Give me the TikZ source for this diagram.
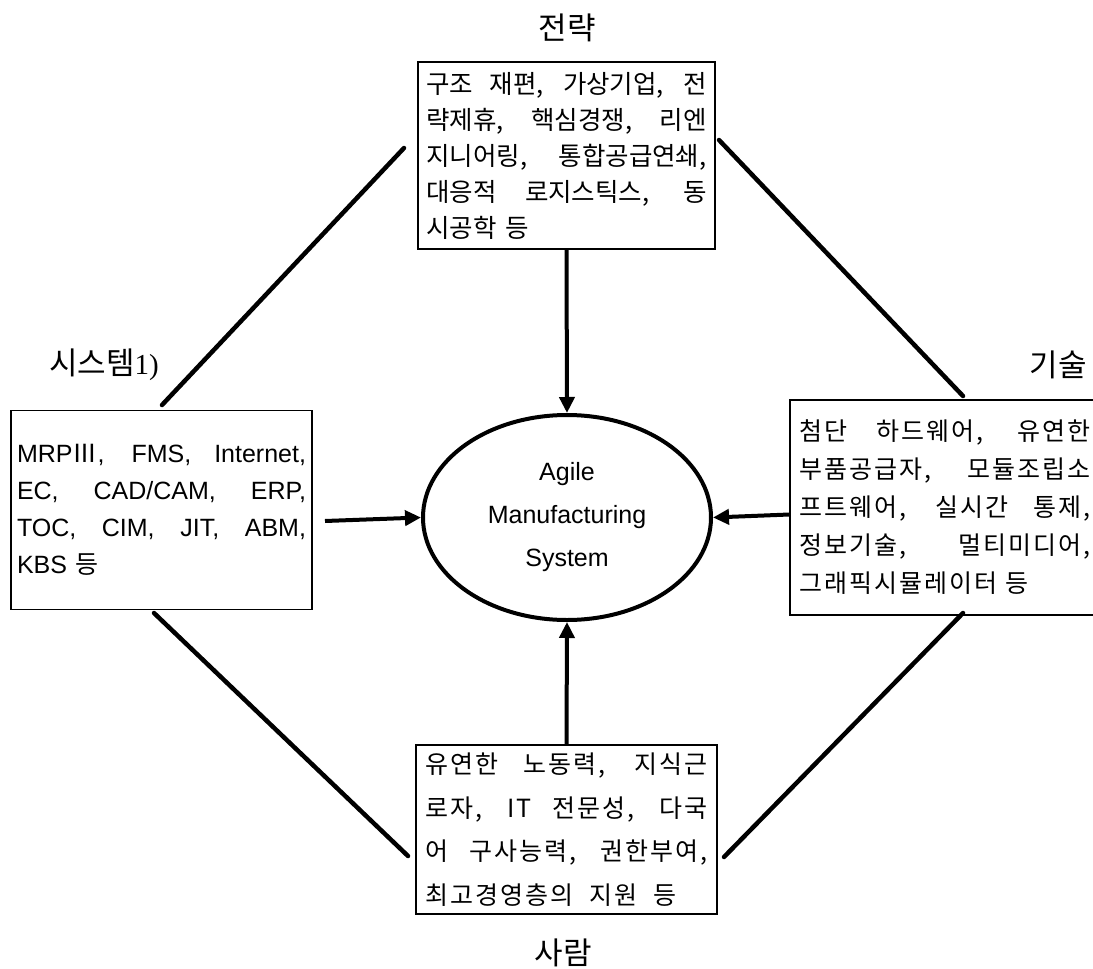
\documentclass[tikz,border=0pt]{standalone}
\usepackage{fontspec}
\setmainfont{Liberation Sans}
\newfontfamily\kr[WordSpace=2]{Noto Sans CJK KR}
\newfontfamily\krs[WordSpace=2,LetterSpace=8]{Noto Sans CJK KR}
\newfontfamily\krl{Noto Sans CJK KR}
\newfontfamily\serifnum{Liberation Serif}
\usetikzlibrary{arrows.meta,shapes.geometric,calc}
\setlength{\parindent}{0pt}
\newcommand{\jwidth}{280pt}
\newcommand{\jl}[1]{{\spaceskip=0.25em plus 1fil\relax\hbox to \jwidth{#1}}\par}
\begin{document}
\begin{tikzpicture}[x=1pt,y=-1pt,
  textbox/.style={draw, line width=1.2pt, inner sep=0pt},
  lab/.style={font=\krl\fontsize{31}{31}\selectfont, inner sep=0pt},
  arr/.style={line width=4pt, -{Triangle[length=16pt,width=15pt]}},
  diag/.style={line width=4.5pt, line cap=round}]
\useasboundingbox (0,0) rectangle (1093,969);

% labels
\node[lab] (lstrat) at (567,28) {전략};
\node[lab] (lsys) at (104,365) {시스템{\serifnum\fontsize{29}{29}\selectfont 1)}};
\node[lab] (ltech) at (1058,365) {기술};
\node[lab] (lpeople) at (563,953) {사람};

% boxes
\node[textbox, text width=280pt, minimum width=297pt, minimum height=187pt,
      font=\kr\fontsize{25.5}{36}\selectfont\def\jwidth{280pt}] (top) at (566.5,155.5) {%
\jl{구조 재편, 가상기업, 전}%
\jl{략제휴, 핵심경쟁, 리엔}%
\jl{지니어링, 통합공급연쇄,}%
\jl{대응적 로지스틱스, 동}%
시공학 등};

\node[textbox, text width=289pt, minimum width=301pt, minimum height=199pt,
      font=\fontsize{25}{37}\selectfont\def\jwidth{289pt}] (left) at (161.5,510) {%
\jl{MRP{\krl Ⅲ}, FMS, Internet,}%
\jl{EC, CAD/CAM, ERP,}%
\jl{TOC, CIM, JIT, ABM,}%
KBS {\krl 등}};

\node[textbox, text width=291pt, minimum width=310pt, minimum height=215pt,
      font=\krs\fontsize{25}{38}\selectfont\def\jwidth{291pt}] (right) at (945,507.5) {%
\jl{첨단 하드웨어, 유연한}%
\jl{부품공급자, 모듈조립소}%
\jl{프트웨어, 실시간 통제,}%
\jl{정보기술, 멀티미디어,}%
그래픽시뮬레이터 등};

\node[textbox, text width=282pt, minimum width=301pt, minimum height=169pt,
      font=\krs\fontsize{25}{43.5}\selectfont\def\jwidth{282pt}] (bottom) at (566.5,829.5) {%
\jl{유연한 노동력, 지식근}%
\jl{로자, IT 전문성, 다국}%
\jl{어 구사능력, 권한부여,}%
최고경영층의\hspace{16pt}지원\hspace{16pt}등};

% center ellipse
\node[ellipse, draw, line width=4pt, minimum width=288pt, minimum height=205pt,
      inner sep=0pt, align=center, font=\fontsize{25}{43}\selectfont] (ams) at (567,517.5)
      {Agile\\Manufacturing\\System};

% arrows
\coordinate (lstart) at (325,521);
\draw[arr] (top.south) -- (ams.north);
\draw[arr] (bottom.north) -- (ams.south);
\draw[arr] (lstart) -- (ams.west);
\draw[arr] ($(right.west)+(0,7)$) -- (ams.east);

% diagonals
\coordinate (tla) at (404,148); \coordinate (tlb) at (162,405);
\coordinate (tra) at (719,140); \coordinate (trb) at (963,396);
\coordinate (bla) at (154,613); \coordinate (blb) at (408,856);
\coordinate (bra) at (963,613); \coordinate (brb) at (724,857);
\draw[diag] (tla) -- (tlb);
\draw[diag] (tra) -- (trb);
\draw[diag] (bla) -- (blb);
\draw[diag] (bra) -- (brb);
\end{tikzpicture}
\end{document}
